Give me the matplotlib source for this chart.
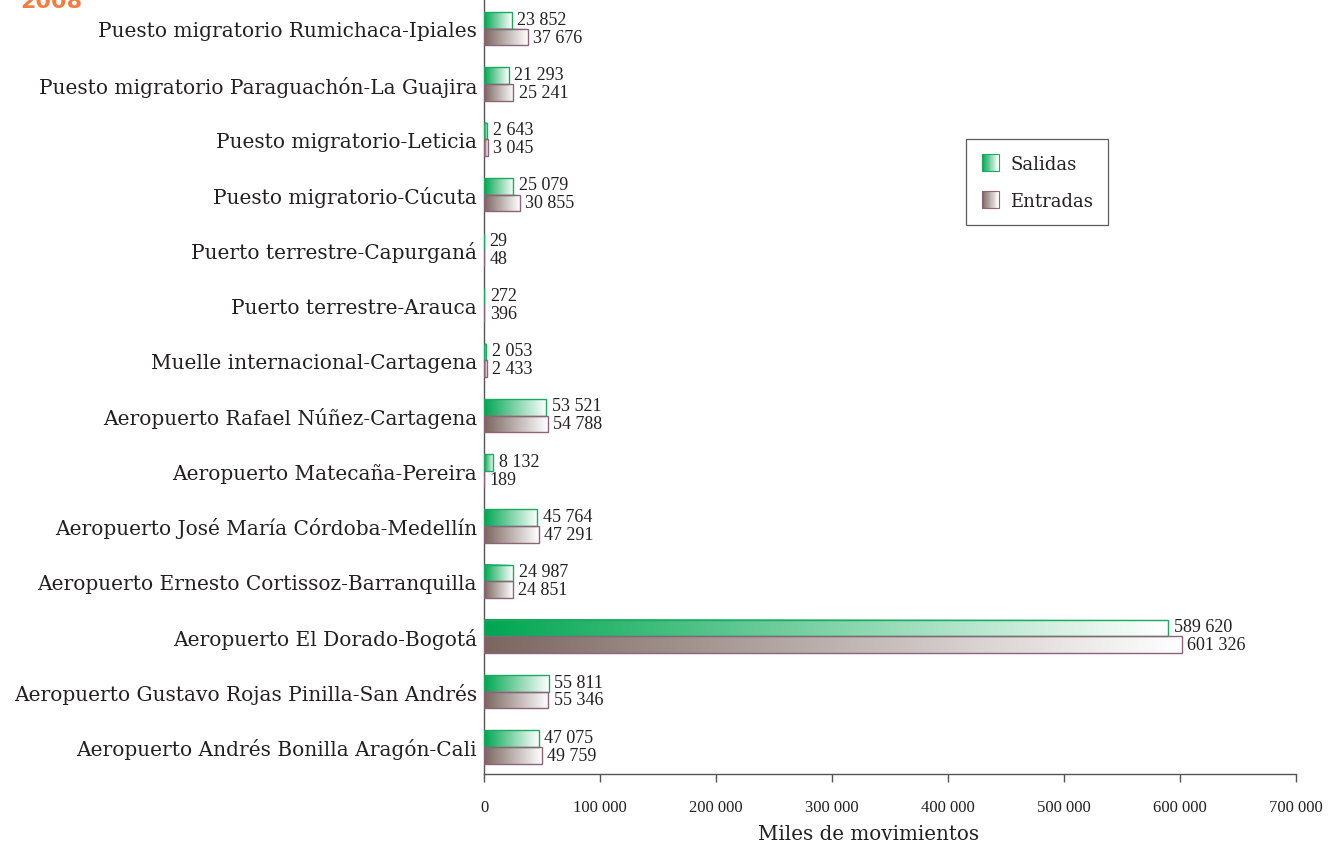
import matplotlib
matplotlib.use("Agg")
import matplotlib.pyplot as plt
import numpy as np
from matplotlib.colors import LinearSegmentedColormap
from matplotlib.legend_handler import HandlerBase
from matplotlib.patches import Rectangle
from matplotlib.ticker import FuncFormatter

# data, listed top to bottom as in the chart
puntos = [
    "Puesto migratorio Rumichaca-Ipiales",
    "Puesto migratorio Paraguachón-La Guajira",
    "Puesto migratorio-Leticia",
    "Puesto migratorio-Cúcuta",
    "Puerto terrestre-Capurganá",
    "Puerto terrestre-Arauca",
    "Muelle internacional-Cartagena",
    "Aeropuerto Rafael Núñez-Cartagena",
    "Aeropuerto Matecaña-Pereira",
    "Aeropuerto José María Córdoba-Medellín",
    "Aeropuerto Ernesto Cortissoz-Barranquilla",
    "Aeropuerto El Dorado-Bogotá",
    "Aeropuerto Gustavo Rojas Pinilla-San Andrés",
    "Aeropuerto Andrés Bonilla Aragón-Cali",
]
salidas = [23852, 21293, 2643, 25079, 29, 272, 2053, 53521, 8132, 45764,
           24987, 589620, 55811, 47075]
entradas = [37676, 25241, 3045, 30855, 48, 396, 2433, 54788, 189, 47291,
            24851, 601326, 55346, 49759]
xticks = [0, 100000, 200000, 300000, 400000, 500000, 600000, 700000]

SERIF = ["Liberation Serif", "DejaVu Serif"]
GREEN = "#00a651"
GREEN_EDGE = "#1bab5e"
MAUVE = "#7b655f"
MAUVE_EDGE = "#8c6379"
TEXT = "#231f20"

cmap_sal = LinearSegmentedColormap.from_list("sal", [GREEN, "#ffffff"])
cmap_ent = LinearSegmentedColormap.from_list("ent", [MAUVE, "#ffffff"])
grad = np.linspace(0, 1, 256).reshape(1, -1)


def fmt(v):
    return f"{v:,}".replace(",", " ")


def gradient_barh(ax, y, width, height, cmap, edge):
    if width <= 0:
        return
    ax.imshow(grad, cmap=cmap, aspect="auto", interpolation="bicubic",
              extent=(0, width, y - height / 2, y + height / 2), zorder=2)
    ax.add_patch(Rectangle((0, y - height / 2), width, height, fill=False,
                           edgecolor=edge, linewidth=1.0, zorder=3))


class GradientHandler(HandlerBase):
    def __init__(self, cmap, edge):
        super().__init__()
        self.cmap = cmap
        self.edge = edge

    def create_artists(self, legend, orig_handle, xdescent, ydescent,
                       width, height, fontsize, trans):
        side = min(width, height) * 1.05
        x0 = -xdescent + (width - side) / 2
        y0 = -ydescent + (height - side) / 2
        n = 20
        artists = []
        for k in range(n):
            r = Rectangle((x0 + side * k / n, y0), side / n + 0.3, side,
                          facecolor=self.cmap(k / (n - 1)), edgecolor="none",
                          transform=trans)
            artists.append(r)
        artists.append(Rectangle((x0, y0), side, side, fill=False,
                                 edgecolor=self.edge, linewidth=0.8,
                                 transform=trans))
        return artists


fig = plt.figure(figsize=(13.37, 8.45), dpi=100)
ax = fig.add_axes([484 / 1337, 70 / 845, 812 / 1337, 775 / 845])

n = len(puntos)
ypos = np.arange(n)[::-1]
h = 0.3

for y, s, e in zip(ypos, salidas, entradas):
    gradient_barh(ax, y + h / 2, s, h, cmap_sal, GREEN_EDGE)
    gradient_barh(ax, y - h / 2, e, h, cmap_ent, MAUVE_EDGE)
    ax.annotate(fmt(s), (s, y + h / 2), xytext=(4, 1),
                textcoords="offset points", va="center", ha="left",
                fontsize=13, family=SERIF, color=TEXT)
    ax.annotate(fmt(e), (e, y - h / 2), xytext=(4, 0),
                textcoords="offset points", va="center", ha="left",
                fontsize=13, family=SERIF, color=TEXT)

ax.set_xlim(0, 700000)
ax.set_ylim(-0.49, n - 1 + 0.54)
ax.set_xticks(xticks)
ax.xaxis.set_major_formatter(FuncFormatter(lambda v, p: fmt(int(v))))
ax.set_yticks(ypos)
ax.set_yticklabels(puntos, family="DejaVu Serif", fontsize=14.5, color=TEXT)
ax.tick_params(axis="y", length=0, pad=5)
ax.tick_params(axis="x", length=6, width=1, color="#555555", pad=12,
               labelsize=12, labelcolor=TEXT)
for lab in ax.get_xticklabels():
    lab.set_family(SERIF)

for side in ("top", "right"):
    ax.spines[side].set_visible(False)
for side in ("left", "bottom"):
    ax.spines[side].set_color("#555555")
    ax.spines[side].set_linewidth(1)

ax.set_xlabel("Miles de movimientos", family="DejaVu Serif", fontsize=14.3,
              color=TEXT)
ax.xaxis.set_label_coords(0.473, -0.064)

h_sal = Rectangle((0, 0), 1, 1)
h_ent = Rectangle((0, 0), 1, 1)
leg = ax.legend([h_sal, h_ent], ["Salidas", "Entradas"],
                handler_map={h_sal: GradientHandler(cmap_sal, GREEN_EDGE),
                             h_ent: GradientHandler(cmap_ent, MAUVE_EDGE)},
                loc="upper left", bbox_to_anchor=(0.5936, 0.819),
                frameon=True, fancybox=False, edgecolor="#333333",
                prop={"family": "DejaVu Serif", "size": 13},
                handlelength=1.0, handleheight=1.0, handletextpad=0.6,
                labelspacing=1.05, borderpad=0.85, borderaxespad=0)
leg.get_frame().set_linewidth(0.9)
for t in leg.get_texts():
    t.set_color(TEXT)

fig.text(20 / 1337, 1 - 8 / 845, "2008", color="#f47c3c", fontsize=16,
         fontweight="bold", family="DejaVu Sans", va="baseline", ha="left")

fig.savefig("out.png", dpi=100)
